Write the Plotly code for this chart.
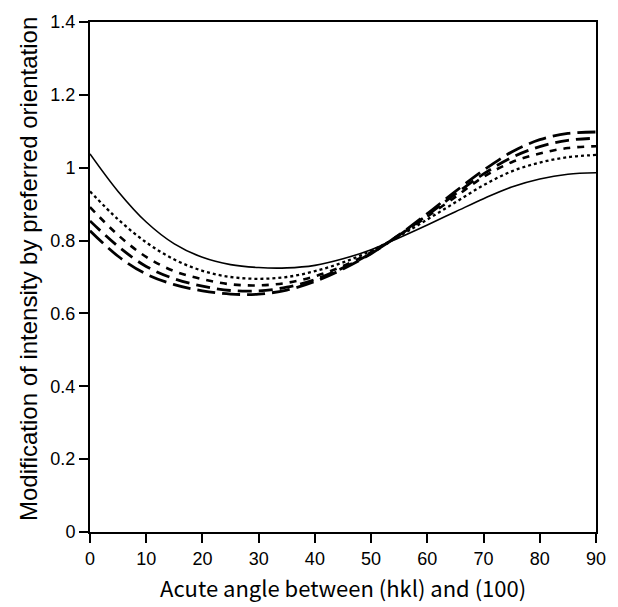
import plotly.graph_objects as go

angles = [0, 5, 10, 15, 20, 25, 30, 35, 40, 45, 50, 55, 60, 65, 70, 75, 80, 85, 90]

curve_solid = [1.038, 0.935, 0.851, 0.791, 0.754, 0.734, 0.726, 0.725, 0.732, 0.75, 0.775,
               0.808, 0.843, 0.879, 0.915, 0.947, 0.969, 0.982, 0.986]
curve_dot = [0.935, 0.858, 0.795, 0.748, 0.717, 0.700, 0.695, 0.700, 0.716, 0.74, 0.772,
             0.812, 0.858, 0.905, 0.952, 0.99, 1.014, 1.029, 1.035]
curve_dash = [0.892, 0.815, 0.755, 0.716, 0.694, 0.680, 0.677, 0.684, 0.702, 0.73, 0.768,
              0.815, 0.866, 0.92, 0.975, 1.015, 1.039, 1.054, 1.059]
curve_longA = [0.854, 0.784, 0.729, 0.695, 0.675, 0.663, 0.662, 0.672, 0.693, 0.725, 0.765,
               0.815, 0.87, 0.928, 0.983, 1.028, 1.058, 1.075, 1.081]
curve_longB = [0.827, 0.757, 0.708, 0.679, 0.662, 0.653, 0.653, 0.664, 0.688, 0.722, 0.764,
               0.816, 0.874, 0.935, 0.993, 1.043, 1.077, 1.094, 1.098]

x_ticks = [0, 10, 20, 30, 40, 50, 60, 70, 80, 90]
y_ticks = [0, 0.2, 0.4, 0.6, 0.8, 1.0, 1.2, 1.4]
y_tick_text = ["0", "0.2", "0.4", "0.6", "0.8", "1", "1.2", "1.4"]

x_title = "Acute angle between (hkl) and (100)"
y_title = "Modification of intensity by preferred orientation"

series = [
    (curve_solid, "solid", 1.6),
    (curve_dot, "dot", 2.3),
    (curve_dash, "7px,7px", 2.6),
    (curve_longA, "14px,7px", 2.8),
    (curve_longB, "18px,7px", 2.8),
]

fig = go.Figure()
for vals, dash, w in series:
    fig.add_trace(go.Scatter(
        x=angles, y=vals, mode="lines",
        line=dict(color="black", width=w, dash=dash, shape="spline", smoothing=1.0),
        showlegend=False, hoverinfo="skip",
    ))

fig.update_layout(
    width=618, height=607,
    margin=dict(l=90, r=14, t=14, b=75),
    paper_bgcolor="white", plot_bgcolor="white",
    font=dict(family="Liberation Sans, Arial, sans-serif", color="black", size=18),
    annotations=[
        dict(text=x_title, xref="paper", yref="paper", x=0.5, y=0,
             xanchor="center", yanchor="middle", yshift=-55, showarrow=False,
             font=dict(family="Noto Sans CJK JP, sans-serif", size=22)),
        dict(text=y_title, xref="paper", yref="paper", x=0, y=0.5,
             xanchor="center", yanchor="middle", xshift=-62, yshift=8, textangle=-90,
             showarrow=False, font=dict(size=24)),
    ],
)
fig.update_xaxes(
    range=[0, 90], tickvals=x_ticks, ticks="outside", ticklen=9, tickwidth=1.5,
    tickcolor="black", showline=True, linecolor="black", linewidth=2, mirror=True,
    showgrid=False, zeroline=False, tickfont=dict(size=18),
)
fig.update_yaxes(
    range=[0, 1.4], tickvals=y_ticks, ticktext=y_tick_text, ticks="outside", ticklen=9,
    tickwidth=1.5, tickcolor="black", showline=True, linecolor="black", linewidth=2,
    mirror=True, showgrid=False, zeroline=False, tickfont=dict(size=18),
)

fig.write_html("out.html", config={"displayModeBar": False},
               post_script="document.body.style.margin='0';")
